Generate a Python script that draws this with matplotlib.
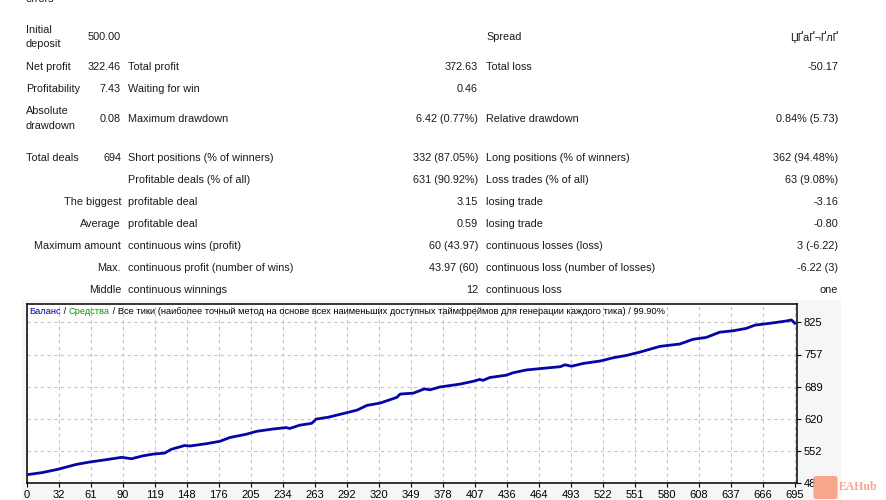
import numpy as np
import matplotlib
matplotlib.use('Agg')
from matplotlib import pyplot as plt
from matplotlib.patches import Rectangle, FancyBboxPatch

# balance curve (trade number -> balance)
trades = [0, 15, 29, 45, 57, 72, 86, 95, 105, 115, 125, 131, 143, 148, 163, 175,
          184, 199, 208, 223, 235, 238, 247, 258, 262, 273, 287, 299, 308, 320,
          335, 338, 350, 360, 365, 374, 383, 392, 404, 410, 413, 419, 434, 440,
          452, 465, 483, 487, 493, 504, 519, 531, 543, 555, 564, 573, 591, 603,
          615, 627, 639, 651, 659, 673, 688, 692, 695]
balance = [502, 507, 514, 524, 529, 534, 539, 536, 542, 546, 548, 556, 564, 563,
           568, 573, 581, 588, 594, 599, 602, 600, 607, 611, 620, 624, 632, 639,
           649, 654, 666, 673, 675, 684, 682, 688, 691, 694, 700, 704, 702, 708,
           713, 718, 724, 727, 731, 735, 732, 738, 743, 750, 755, 762, 768, 774,
           779, 789, 793, 804, 807, 812, 819, 823, 828, 830, 823]

x_labels = ['0', '32', '61', '90', '119', '148', '176', '205', '234', '263', '292',
            '320', '349', '378', '407', '436', '464', '493', '522', '551', '580',
            '608', '637', '666', '695']
y_labels = ['484', '552', '620', '689', '757', '825']

# report table, by column
rows_left = [
    (30, 'Initial', 'l'), (44, 'deposit', 'l'),
    (67, 'Net profit', 'l'), (89, 'Profitability', 'l'),
    (111, 'Absolute', 'l'), (126, 'drawdown', 'l'),
    (158, 'Total deals', 'l'),
    (202, 'The biggest', 'r'), (224, 'Average', 'r'),
    (246, 'Maximum amount', 'r'), (268, 'Max.', 'r'), (290, 'Middle', 'r'),
]
col2_values = [(37, '500.00'), (67, '322.46'), (89, '7.43'), (119, '0.08'), (158, '694')]
col3_labels = [(67, 'Total profit'), (89, 'Waiting for win'), (119, 'Maximum drawdown'),
               (158, 'Short positions (% of winners)'), (180, 'Profitable deals (% of all)'),
               (202, 'profitable deal'), (224, 'profitable deal'),
               (246, 'continuous wins (profit)'), (268, 'continuous profit (number of wins)'),
               (290, 'continuous winnings')]
col4_values = [(67, '372.63'), (89, '0.46'), (119, '6.42 (0.77%)'), (158, '332 (87.05%)'),
               (180, '631 (90.92%)'), (202, '3.15'), (224, '0.59'), (246, '60 (43.97)'),
               (268, '43.97 (60)'), (290, '12')]
col5_labels = [(37, 'Spread'), (67, 'Total loss'), (119, 'Relative drawdown'),
               (158, 'Long positions (% of winners)'), (180, 'Loss trades (% of all)'),
               (202, 'losing trade'), (224, 'losing trade'),
               (246, 'continuous losses (loss)'), (268, 'continuous loss (number of losses)'),
               (290, 'continuous loss')]
col6_values = [(37, 'ЏҐаҐ¬ҐлҐ'), (67, '-50.17'), (119, '0.84% (5.73)'),
               (158, '362 (94.48%)'), (180, '63 (9.08%)'), (202, '-3.16'), (224, '-0.80'),
               (246, '3 (-6.22)'), (268, '-6.22 (3)'), (290, 'one')]

W, H = 886, 500
plt.rcParams['font.family'] = ['Liberation Sans', 'DejaVu Sans']
fig = plt.figure(figsize=(W / 100, H / 100), dpi=100)
fig.patch.set_facecolor('white')

FS = 7.8
TXT = '#1a1a1a'


def put(x, y, s, ha='left', **kw):
    return fig.text(x / W, 1 - y / H, s, ha=ha, va='center', fontsize=kw.pop('fontsize', FS),
                    color=kw.pop('color', TXT), **kw)


put(26, -1, 'errors')
for y, s, a in rows_left:
    if a == 'l':
        put(26, y, s)
    else:
        put(121, y, s, ha='right')
for y, s in col2_values:
    put(121, y, s, ha='right')
for y, s in col3_labels:
    put(128, y, s)
for y, s in col4_values:
    put(478, y, s, ha='right')
for y, s in col5_labels:
    put(486, y, s)
for y, s in col6_values:
    put(838, y, s, ha='right')

# grey panel behind chart
fig.add_artist(Rectangle((22 / W, 0), (841 - 22) / W, 200 / H, transform=fig.transFigure,
                         facecolor='#f6f6f6', edgecolor='none', zorder=-5))

left, right, top, bottom = 26.5, 797, 304, 483.3
ax = fig.add_axes([left / W, 1 - bottom / H, (right - left) / W, (bottom - top) / H])
ax.set_facecolor('white')

x_pos = np.linspace(0, 695, len(x_labels))
y_step = (825 - 484) / 5
y_pos = [484 + i * y_step for i in range(len(y_labels))]

ax.plot(trades, balance, color='#0606a6', lw=2.0, zorder=3)

ax.set_xlim(0, 697)
ax.set_ylim(484, 825 + y_step * (322.3 - top) / 32.2)
ax.set_xticks(x_pos)
ax.set_xticklabels(x_labels)
ax.set_yticks(y_pos)
ax.set_yticklabels(y_labels)
ax.yaxis.tick_right()
ax.tick_params(axis='both', labelsize=8, colors='black', length=3, width=0.8, pad=2)
ax.grid(True, color='#c4c4c4', linestyle=(0, (3, 3)), linewidth=0.8)
for sp in ax.spines.values():
    sp.set_color('black')
    sp.set_linewidth(1.1)

# chart header with coloured words
parts = [('Баланс', '#0000a0'), (' / ', 'black'), ('Средства', '#00a000'),
         (' / Все тики (наиболее точный метод на основе всех наименьших доступных '
          'таймфреймов для генерации каждого тика) / 99.90%', 'black')]
renderer = fig.canvas.get_renderer()
xx = 29
for s, c in parts:
    t = put(xx, 312, s, color=c, fontsize=6.7)
    bb = t.get_window_extent(renderer=renderer)
    xx += bb.width

# watermark
fig.add_artist(FancyBboxPatch((817 / W, 1 - 497 / H), 17 / W, 19 / H,
                              boxstyle='round,pad=0.004', transform=fig.transFigure,
                              facecolor='#f7a58c', edgecolor='none', zorder=5))
put(858, 487, 'EAHub', ha='center', color='#f7a58c', fontsize=8.5, fontweight='bold',
    family='Liberation Serif')

fig.savefig('out.png', dpi=100)
